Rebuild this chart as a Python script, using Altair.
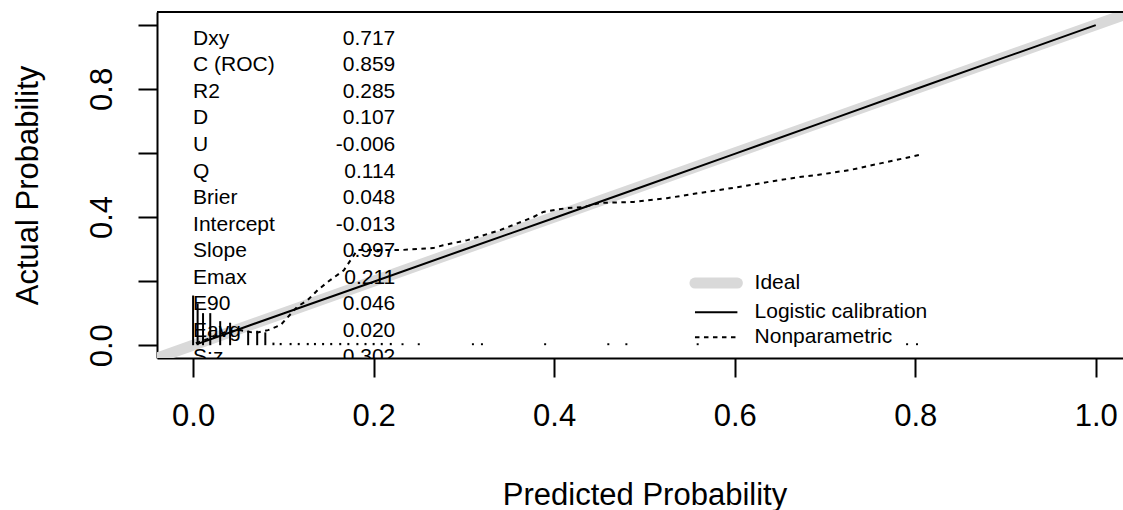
import altair as alt
import pandas as pd

# ---------------- data ----------------
stat_names = ["Dxy", "C (ROC)", "R2", "D", "U", "Q", "Brier", "Intercept",
              "Slope", "Emax", "E90", "Eavg", "S:z"]
stat_values = ["0.717", "0.859", "0.285", "0.107", "-0.006", "0.114", "0.048",
               "-0.013", "0.997", "0.211", "0.046", "0.020", "0.302"]

ideal_x = [-0.04, 1.04]
ideal_y = [-0.04, 1.04]

logit_x = [0.005, 0.05, 0.1, 0.2, 0.3, 0.4, 0.5, 0.6, 0.7, 0.8, 0.9, 1.0]
logit_y = [0.004, 0.049, 0.099, 0.198, 0.298, 0.397, 0.497, 0.597, 0.698,
           0.799, 0.899, 0.999]

np_x = [0.003, 0.019, 0.036, 0.052, 0.069, 0.083, 0.097, 0.115, 0.127, 0.138,
        0.149, 0.167, 0.182, 0.230, 0.266, 0.277, 0.304, 0.340, 0.377, 0.388,
        0.414, 0.432, 0.451, 0.488, 0.525, 0.561, 0.598, 0.636, 0.672, 0.691,
        0.728, 0.764, 0.805]
np_y = [0.006, 0.022, 0.041, 0.047, 0.038, 0.047, 0.063, 0.119, 0.141, 0.172,
        0.197, 0.234, 0.297, 0.297, 0.303, 0.312, 0.328, 0.359, 0.400, 0.416,
        0.428, 0.431, 0.444, 0.447, 0.459, 0.475, 0.491, 0.509, 0.525, 0.531,
        0.547, 0.569, 0.594]

spike_x = [0.000, 0.005, 0.011, 0.019, 0.030, 0.041, 0.061, 0.071, 0.080,
           0.089, 0.097, 0.108, 0.117, 0.127, 0.135, 0.144, 0.153, 0.163,
           0.172, 0.182, 0.191, 0.200, 0.209, 0.219, 0.232, 0.250, 0.310,
           0.320, 0.390, 0.460, 0.480, 0.559, 0.791, 0.802]
spike_h = [0.155, 0.130, 0.100, 0.100, 0.075, 0.070, 0.045, 0.045, 0.040,
           0.008, 0.007, 0.007, 0.007, 0.007, 0.007, 0.007, 0.007, 0.007,
           0.007, 0.007, 0.007, 0.007, 0.007, 0.007, 0.006, 0.006, 0.006,
           0.006, 0.006, 0.006, 0.006, 0.006, 0.006, 0.006]

legend_labels = ["Ideal", "Logistic calibration", "Nonparametric"]

x_ticks = [0.0, 0.2, 0.4, 0.6, 0.8, 1.0]
y_ticks = [0.0, 0.2, 0.4, 0.6, 0.8, 1.0]

# ---------------- layout constants ----------------
FONT = "Liberation Sans"
W, H = 966, 346
XDOM = [-0.04, 1.0302]
YDOM = [-0.04, 1.04]
STAT_TOP, STAT_STEP = 0.956, 0.0828
STAT_LX, STAT_VX = 0.0, 0.224
LEG_SYM0, LEG_SYM1, LEG_TX = 0.556, 0.603, 0.622
LEG_ROWS = [0.194, 0.103, 0.025]

xs = alt.Scale(domain=XDOM, nice=False, zero=False)
ys = alt.Scale(domain=YDOM, nice=False, zero=False)

ideal_df = pd.DataFrame({"x": ideal_x, "y": ideal_y})
logit_df = pd.DataFrame({"x": logit_x, "y": logit_y})
np_df = pd.DataFrame({"x": np_x, "y": np_y})
spike_df = pd.DataFrame({"x": spike_x, "h": spike_h, "y0": [0.0] * len(spike_x)})
stat_df = pd.DataFrame({
    "name": stat_names,
    "value": stat_values,
    "y": [STAT_TOP - i * STAT_STEP for i in range(len(stat_names))],
    "lx": STAT_LX,
    "vx": STAT_VX,
})
leg_df = pd.DataFrame({
    "label": legend_labels,
    "y": LEG_ROWS,
    "x0": LEG_SYM0,
    "x1": LEG_SYM1,
    "tx": LEG_TX,
})

x_axis = alt.Axis(values=x_ticks, format=".1f", grid=False,
                  labelFont=FONT, labelFontSize=31, labelColor="black",
                  labelPadding=24, tickSize=19, tickWidth=2, tickColor="black",
                  domainColor="black", domainWidth=2, zindex=0,
                  titleFont=FONT, titleFontSize=31, titleFontWeight="normal",
                  titleColor="black", titleX=487.5, titleY=146,
                  titleAlign="center", titleBaseline="alphabetic")
y_axis = alt.Axis(values=y_ticks, grid=False,
                  labelExpr="round(datum.value*10) % 4 == 0 ? format(datum.value, '.1f') : ''",
                  labelFont=FONT, labelFontSize=31, labelColor="black",
                  labelAngle=270, labelAlign="center", labelBaseline="alphabetic",
                  labelPadding=27, tickSize=19, tickWidth=2, tickColor="black",
                  domainColor="black", domainWidth=2, zindex=0,
                  titleFont=FONT, titleFontSize=31, titleFontWeight="normal",
                  titleColor="black", titleAngle=270, titleX=-120, titleY=H / 2,
                  titleAlign="center", titleBaseline="alphabetic")


def X(field):
    return alt.X(field, type="quantitative", scale=xs, axis=x_axis,
                 title="Predicted Probability")


def Y(field):
    return alt.Y(field, type="quantitative", scale=ys, axis=y_axis,
                 title="Actual Probability")


ideal = alt.Chart(ideal_df).mark_line(color="#d9d9d9", strokeWidth=11, clip=True).encode(
    x=X("x"), y=Y("y"),
)

top_rule = alt.Chart(ideal_df).mark_rule(color="black", strokeWidth=2).encode(
    y=alt.value(0)
)

logit = alt.Chart(logit_df).mark_line(color="black", strokeWidth=2, clip=True).encode(
    x=X("x"), y=Y("y"),
)

nonpar = alt.Chart(np_df).mark_line(color="black", strokeWidth=2,
                                    strokeDash=[4.5, 4.5], clip=True).encode(
    x=X("x"), y=Y("y"),
)

stat_names_t = alt.Chart(stat_df).mark_text(
    font=FONT, fontSize=21, align="left", baseline="middle", color="black", clip=True
).encode(x=X("lx"), y=Y("y"), text="name:N")

stat_vals_t = alt.Chart(stat_df).mark_text(
    font=FONT, fontSize=21, align="right", baseline="middle", color="black", clip=True
).encode(x=X("vx"), y=Y("y"), text="value:N")

spikes = alt.Chart(spike_df).mark_rule(color="black", strokeWidth=2, clip=True).encode(
    x=X("x"), y=Y("y0"), y2="h:Q",
)

leg_base = alt.Chart(leg_df)
leg_ideal = leg_base.transform_filter(alt.datum.label == "Ideal").mark_rule(
    color="#d9d9d9", strokeWidth=11, strokeCap="round"
).encode(x=X("x0"), x2="x1:Q", y=Y("y"))
leg_logit = leg_base.transform_filter(alt.datum.label == "Logistic calibration").mark_rule(
    color="black", strokeWidth=2
).encode(x=X("x0"), x2="x1:Q", y=Y("y"))
leg_np = leg_base.transform_filter(alt.datum.label == "Nonparametric").mark_rule(
    color="black", strokeWidth=2, strokeDash=[4.5, 4.5]
).encode(x=X("x0"), x2="x1:Q", y=Y("y"))
leg_text = leg_base.mark_text(
    font=FONT, fontSize=21, align="left", baseline="middle", color="black"
).encode(x=X("tx"), y=Y("y"), text="label:N")

chart = alt.layer(
    ideal, logit, nonpar, stat_names_t, stat_vals_t, spikes,
    leg_ideal, leg_logit, leg_np, leg_text, top_rule,
).properties(
    width=W, height=H,
    autosize=alt.AutoSizeParams(type="none"),
    padding={"left": 157, "top": 12, "right": 0, "bottom": 152},
    background="white",
).configure_view(stroke=None)

chart.save("out.html", embed_options={"renderer": "svg", "actions": False})
